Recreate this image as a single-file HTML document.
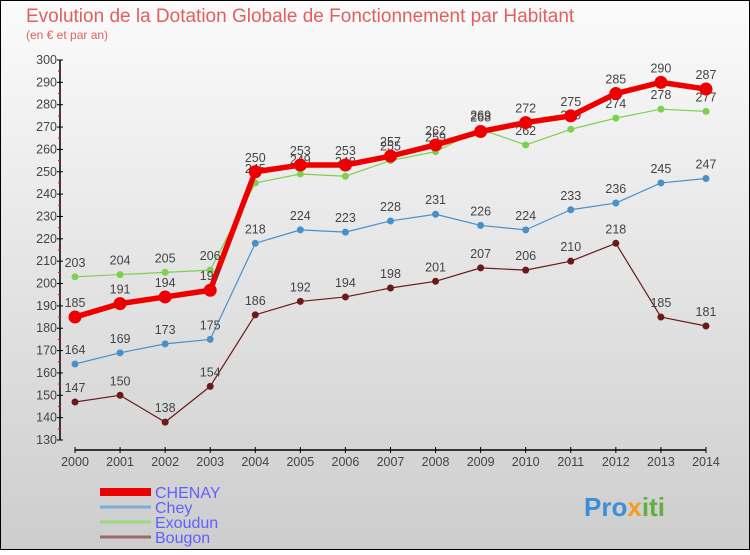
<!DOCTYPE html>
<html><head><meta charset="utf-8"><style>
body{margin:0;width:750px;height:550px;overflow:hidden;font-family:"Liberation Sans","DejaVu Sans",sans-serif}
</style></head><body>
<svg width="750" height="550" xmlns="http://www.w3.org/2000/svg">
<defs><linearGradient id="bg" x1="0" y1="0" x2="0" y2="1"><stop offset="0" stop-color="#fbfbfb"/><stop offset="1" stop-color="#cdcdcd"/></linearGradient></defs>
<rect x="0.5" y="0.5" width="749" height="549" fill="url(#bg)" stroke="#000"/>
<text x="26" y="22" font-size="19" fill="#e06060">Evolution de la Dotation Globale de Fonctionnement par Habitant</text>
<text x="26" y="39" font-size="12" fill="#e06060">(en € et par an)</text>
<g id="axes"></g><g id="series"></g><g id="legend"></g>
<text x="584" y="516" font-size="26" font-weight="bold" fill="#3a8fd8">Pro<tspan fill="#f0a020">x</tspan><tspan fill="#60b040">iti</tspan></text>
</svg>
<script>
const years=[2000,2001,2002,2003,2004,2005,2006,2007,2008,2009,2010,2011,2012,2013,2014];
const chenay=[185,191,194,197,250,253,253,257,262,268,272,275,285,290,287];
const chey=[164,169,173,175,218,224,223,228,231,226,224,233,236,245,247];
const exoudun=[203,204,205,206,245,249,248,255,259,269,262,269,274,278,277];
const bougon=[147,150,138,154,186,192,194,198,201,207,206,210,218,185,181];
const yTicks=[130,140,150,160,170,180,190,200,210,220,230,240,250,260,270,280,290,300];
const NS="http://www.w3.org/2000/svg";
const X=i=>75+i*45.07, Y=v=>440-(v-130)*2.2353;
function mk(tag,at,parent){const e=document.createElementNS(NS,tag);for(const k in at)e.setAttribute(k,at[k]);document.getElementById(parent).appendChild(e);return e;}
let e;
e=mk('line',{x1:60,y1:60,x2:60,y2:440,stroke:'#000','stroke-width':1.5},'axes');


e=mk('line',{x1:75,y1:450,x2:706,y2:450,stroke:'#000','stroke-width':1.5},'axes');


yTicks.forEach((t,i)=>{const y=Y(t);
 e=mk('line',{x1:57,y1:y,x2:63,y2:y,stroke:'#000'},'axes');
 
 
 if(i<yTicks.length-1){e=mk('line',{x1:58,y1:y-11.2,x2:61,y2:y-11.2,stroke:'#f00'},'axes');
 
 }
 e=mk('text',{x:57,y:y+4,'font-size':12.5,'text-anchor':'end',fill:'#444'},'axes');e.textContent=t;
 
 
});
years.forEach((yr,i)=>{const x=X(i);
 e=mk('line',{x1:x,y1:447,x2:x,y2:453,stroke:'#000'},'axes');
 
 
 e=mk('text',{x:x,y:466,'font-size':12.5,'text-anchor':'middle',fill:'#444'},'axes');e.textContent=yr;
 
 
});
function series(name,vals,color,w,r,labels){
 e=mk('polyline',{points:vals.map((v,i)=>X(i)+','+Y(v)).join(' '),fill:'none',stroke:color,'stroke-width':w,'stroke-linejoin':'round'},'series');
 
 
 vals.forEach((v,i)=>{
  e=mk('circle',{cx:X(i),cy:Y(v),r:r,fill:color},'series');
  
  
  if(labels){e=mk('text',{x:X(i),y:Y(v)-10,'font-size':12.5,'text-anchor':'middle',fill:'#444'},'series');e.textContent=v;
  
  }
 });
}
series('bougon',bougon,'#6b1a1a',1.2,3.5,true);
series('chey',chey,'#4a90c8',1.2,3.5,true);
series('exoudun',exoudun,'#7dd050',1.2,3.5,true);
series('chenay',chenay,'#ee0000',5.5,6.5,true);
const legNames=['CHENAY','Chey','Exoudun','Bougon'],legColors=['#ee0000','#7aaed8','#9ed880','#9a6a6a'],legW=[8,3,3,3];
legNames.forEach((n,i)=>{const y=492+i*15;
 e=mk('line',{x1:100,y1:y,x2:151,y2:y,stroke:legColors[i],'stroke-width':legW[i]},'legend');
 
 
 e=mk('text',{x:155,y:y+6,'font-size':16,fill:'#6060ff'},'legend');e.textContent=n;
 
 
});
</script>
</body></html>
